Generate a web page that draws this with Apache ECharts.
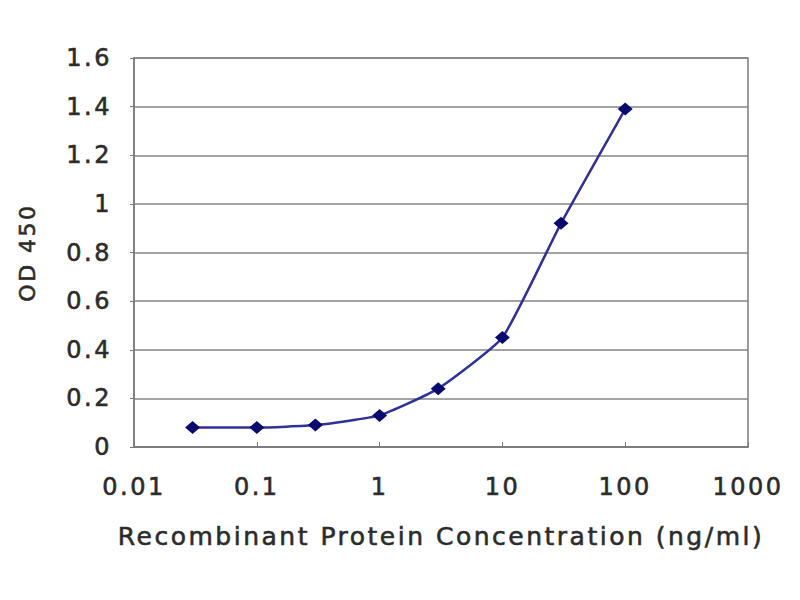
<!DOCTYPE html>
<html>
<head>
<meta charset="utf-8">
<script src="https://cdn.jsdelivr.net/npm/echarts@6/dist/echarts.min.js"></script>
<style>
html,body{margin:0;padding:0;background:#fff;}
#chart{width:800px;height:600px;}
#chart text{letter-spacing:2.5px;stroke:#333333;stroke-width:0.6px;}
</style>
</head>
<body>
<div id="chart"></div>
<script>
var concentrations = [0.03, 0.1, 0.3, 1, 3, 10, 30, 100];
var odValues = [0.08, 0.08, 0.09, 0.13, 0.24, 0.45, 0.92, 1.39];
var xTickLabels = ['0.01', '0.1', '1', '10', '100', '1000'];
var yTickLabels = ['0', '0.2', '0.4', '0.6', '0.8', '1', '1.2', '1.4', '1.6'];
var xTitle = 'Recombinant Protein Concentration (ng/ml)';
var yTitle = 'OD 450';

var seriesData = concentrations.map(function (c, i) { return [c, odValues[i]]; });
var font = 'DejaVu Sans';
var textColor = '#2a2a2a';
var chart = echarts.init(document.getElementById('chart'), null, {renderer: 'svg'});
chart.setOption({
  animation: false,
  backgroundColor: '#ffffff',
  grid: {left: 134, right: 52, top: 58, bottom: 153, show: true, borderColor: '#7a7a7a', borderWidth: 1.5, backgroundColor: 'transparent'},
  xAxis: {
    type: 'log', logBase: 10, min: 0.01, max: 1000,
    name: xTitle, nameLocation: 'middle', nameGap: 77,
    nameTextStyle: {fontFamily: font, fontSize: 25, color: textColor},
    axisLine: {show: true, lineStyle: {color: '#7a7a7a', width: 1.5}},
    axisTick: {show: true, inside: true, length: 5, lineStyle: {color: '#7a7a7a'}},
    minorTick: {show: false},
    splitLine: {show: false},
    axisLabel: {
      fontFamily: font, fontSize: 24, color: textColor, margin: 28,
      formatter: function (v) {
        var idx = Math.round(Math.log10(v)) + 2;
        return xTickLabels[idx] !== undefined ? xTickLabels[idx] : '';
      }
    }
  },
  yAxis: {
    type: 'value', min: 0, max: 1.6, interval: 0.2,
    name: yTitle, nameLocation: 'middle', nameGap: 96, nameRotate: 90,
    nameTextStyle: {fontFamily: font, fontSize: 22, color: textColor},
    axisLine: {show: true, lineStyle: {color: '#7a7a7a', width: 1.5}},
    axisTick: {show: true, length: 4, lineStyle: {color: '#7a7a7a'}},
    splitLine: {show: true, lineStyle: {color: '#858585', width: 1.5}},
    axisLabel: {
      fontFamily: font, fontSize: 24, color: textColor, margin: 22,
      formatter: function (v) {
        var idx = Math.round(v / 0.2);
        return yTickLabels[idx] !== undefined ? yTickLabels[idx] : '';
      }
    }
  },
  series: [{
    type: 'line',
    data: seriesData,
    smooth: 0.15,
    symbol: 'diamond',
    symbolSize: [15, 13],
    lineStyle: {color: '#303096', width: 2.5},
    itemStyle: {color: '#0a0a6e'}
  }]
});
</script>
</body>
</html>
